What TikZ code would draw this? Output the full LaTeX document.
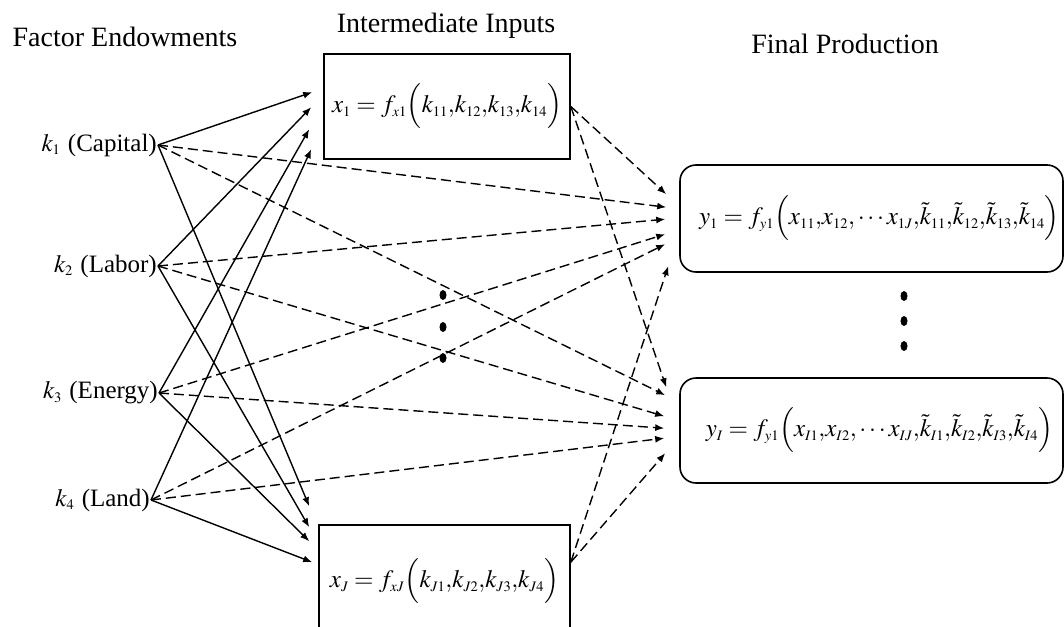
\documentclass[tikz,border=0pt]{standalone}
\usepackage{mathptmx}
\usepackage{fontspec}
\setmainfont{Liberation Serif}
\usetikzlibrary{arrows.meta,calc,shapes.geometric}
\DeclareMathSizes{25}{25}{14.5}{10}
\newcommand{\cm}{\mathord{,}}
\begin{document}
\begin{tikzpicture}[x=1pt,y=-1pt,
  txt/.style={font=\fontsize{25}{30}\selectfont, inner sep=0pt},
  hdr/.style={font=\fontsize{28}{33}\selectfont, inner sep=0pt, anchor=base},
  lbl/.style={txt, anchor=east, inner sep=1pt},
  xbox/.style={draw, line width=1.6pt, inner sep=0pt, font=\fontsize{25}{30}\selectfont},
  ybox/.style={draw, line width=1.6pt, rounded corners=16pt, inner sep=0pt, font=\fontsize{25}{30}\selectfont},
  sol/.style={line width=1.4pt, -{Latex[length=9pt,width=7pt]}},
  dsh/.style={sol, dash pattern=on 10pt off 5pt},
  bul/.style={fill, ellipse, inner sep=0pt, minimum width=7pt, minimum height=10pt}
]
\useasboundingbox (0,0) rectangle (1064,626);

% headings
\node[hdr] (h1) at (125,46) {Factor Endowments};
\node[hdr] (h2) at (446,33) {Intermediate Inputs};
\node[hdr] (h3) at (845,54) {Final Production};

% factor labels
\node[lbl] (k1) at (158,145) {$k_1$\hspace{0.3em}(Capital)};
\node[lbl] (k2) at (158,266) {$k_2$\hspace{0.3em}(Labor)};
\node[lbl] (k3) at (159,393) {$k_3$\hspace{0.3em}(Energy)};
\node[lbl] (k4) at (151,500) {$k_4$\hspace{0.3em}(Land)};

% intermediate boxes
\node[xbox, minimum width=246pt, minimum height=105pt] (x1) at (447,106.5)
  {$x_1 = f_{x1}\Bigl(k_{11}\cm k_{12}\cm k_{13}\cm k_{14}\Bigr)$};
\node[xbox, minimum width=251pt, minimum height=112pt] (xJ) at (444.5,581)
  {$x_J = f_{xJ}\Bigl(k_{J1}\cm k_{J2}\cm k_{J3}\cm k_{J4}\Bigr)$};

% final boxes
\node[ybox, minimum width=383pt, minimum height=107pt] (y1) at (871.5,218.5)
  {\hspace{16pt}$y_1 = f_{y1}\Bigl(x_{11}\cm x_{12}\cm \cdots x_{1J}\cm \tilde{k}_{11}\cm \tilde{k}_{12}\cm \tilde{k}_{13}\cm \tilde{k}_{14}\Bigr)$};
\node[ybox, minimum width=383pt, minimum height=105pt] (yI) at (871.5,430.5)
  {\hspace{16pt}$y_I = f_{y1}\Bigl(x_{I1}\cm x_{I2}\cm \cdots x_{IJ}\cm \tilde{k}_{I1}\cm \tilde{k}_{I2}\cm \tilde{k}_{I3}\cm \tilde{k}_{I4}\Bigr)$};

% bullets
\node[bul] (d1) at (443,295) {};
\node[bul] (d2) at (443,327) {};
\node[bul] (d3) at (443,358) {};
\node[bul] (e1) at (904,296) {};
\node[bul] (e2) at (904,321) {};
\node[bul] (e3) at (904,346) {};

% solid: factors -> x1
\draw[sol] (k1.east) -- ($(x1.north west)+(-11,39)$);
\draw[sol] (k2.east) -- ($(x1.north west)+(-12,54)$);
\draw[sol] (k3.east) -- ($(x1.north west)+(-14,76)$);
\draw[sol] (k4.east) -- ($(x1.north west)+(-12,96)$);
% solid: factors -> xJ
\draw[sol] (k1.east) -- ($(xJ.north west)+(-9,-18)$);
\draw[sol] (k2.east) -- ($(xJ.north west)+(-9,3)$);
\draw[sol] (k3.east) -- ($(xJ.north west)+(-9,17)$);
\draw[sol] (k4.east) -- ($(xJ.north west)+(-6,38)$);

% dashed -> y1
\draw[dsh] (x1.east) -- ($(y1.north west)+(-13,30)$);
\draw[dsh] (k1.east) -- ($(y1.north west)+(-13,43)$);
\draw[dsh] (k2.east) -- ($(y1.north west)+(-14,55)$);
\draw[dsh] (k3.east) -- ($(y1.north west)+(-14,70)$);
\draw[dsh] (k4.east) -- ($(y1.north west)+(-14,80)$);
\draw[dsh] ($(xJ.north east)+(0,38)$) -- ($(y1.north west)+(-11,102)$);
% dashed -> yI
\draw[dsh] (x1.east) -- ($(yI.north west)+(-13,10)$);
\draw[dsh] (k1.east) -- ($(yI.north west)+(-14,18)$);
\draw[dsh] (k2.east) -- ($(yI.north west)+(-15,39)$);
\draw[dsh] (k3.east) -- ($(yI.north west)+(-15,51)$);
\draw[dsh] (k4.east) -- ($(yI.north west)+(-15,61)$);
\draw[dsh] ($(xJ.north east)+(0,38)$) -- ($(yI.north west)+(-14,76)$);
\end{tikzpicture}
\end{document}
